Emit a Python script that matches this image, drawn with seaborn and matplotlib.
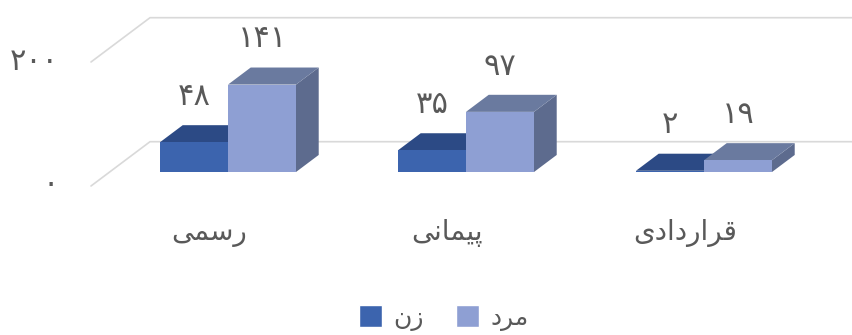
import numpy as np
import pandas as pd
import seaborn as sns
from matplotlib import pyplot as plt
from matplotlib.patches import Polygon
from matplotlib.transforms import ScaledTranslation

categories = ['رسمی', 'پیمانی', 'قراردادی']
series = ['زن', 'مرد']
women = [48, 35, 2]
men = [141, 97, 19]
yticks = [0, 200]

# Persian letters -> isolated, final, initial, medial forms
FORMS = {
	'ر': ('\uFEAD', '\uFEAE'), 'ز': ('\uFEAF', '\uFEB0'), 'د': ('\uFEA9', '\uFEAA'), 'ا': ('\uFE8D', '\uFE8E'),
	'س': ('\uFEB1', '\uFEB2', '\uFEB3', '\uFEB4'), 'م': ('\uFEE1', '\uFEE2', '\uFEE3', '\uFEE4'),
	'ی': ('\uFBFC', '\uFBFD', '\uFBFE', '\uFBFF'), 'پ': ('\uFB56', '\uFB57', '\uFB58', '\uFB59'),
	'ن': ('\uFEE5', '\uFEE6', '\uFEE7', '\uFEE8'), 'ق': ('\uFED5', '\uFED6', '\uFED7', '\uFED8'),
}

# matplotlib does no arabic shaping, so pick the joined forms and reverse
def shape(word):
	out = []
	for i, c in enumerate(word):
		prev_joins = i > 0 and len(FORMS[word[i - 1]]) == 4
		next_joins = i < len(word) - 1 and len(FORMS[c]) == 4
		if prev_joins and next_joins:
			out.append(FORMS[c][3])
		elif prev_joins:
			out.append(FORMS[c][1])
		elif next_joins:
			out.append(FORMS[c][2])
		else:
			out.append(FORMS[c][0])
	return ''.join(reversed(out))

def fa(n):
	return str(n).translate(str.maketrans('0123456789', '۰۱۲۳۴۵۶۷۸۹'))

sns.set_style('white')
plt.rcParams['font.family'] = ['DejaVu Sans']
GREY = '#595959'

fig = plt.figure(figsize=(8.52, 3.35), dpi=100)
ax = fig.add_axes([91 / 852, 1 - 186 / 335, (852 - 91) / 852, 186 / 335])

df = pd.DataFrame({
	'cat': categories * 2,
	'series': [series[0]] * 3 + [series[1]] * 3,
	'value': women + men,
})
sns.barplot(data=df, x='cat', y='value', hue='series', hue_order=series, order=categories,
	palette=['#3c64ae', '#8e9fd3'], width=68 * 2 / 238, gap=0, dodge=True, saturation=1, errorbar=None, ax=ax)

# scales of the oblique projection, front of the floor is depth 0, wall is depth 1
px_y = 0.62
ax.set_xlim((91 - 228) / 238, (852 - 228) / 238)
ax.set_ylim(-14 / px_y, 172 / px_y)
dx = 59 / 238
dy = 44.3 / px_y
d_bar = 14 / 44.3
d_len = 0.385

# grid on floor and wall
xr = ax.get_xlim()[1]
for v in yticks:
	front = (ax.get_xlim()[0], v - d_bar * dy)
	back = (front[0] + dx, front[1] + dy)
	ax.plot([front[0], back[0], xr], [front[1], back[1], back[1]], color='#d9d9d9', lw=1.2, zorder=1, clip_on=False)

# side and top faces from the bars seaborn drew
faces = [('#2c4a85', '#2c4a85'), ('#6a7a9f', '#5d6b8e')]
for k, cont in enumerate(ax.containers):
	z = 2 + k
	top_c, side_c = faces[k]
	for bar, val in zip(cont, [women, men][k]):
		x0 = bar.get_x()
		x1 = x0 + bar.get_width()
		h = bar.get_height()
		bar.set_zorder(z + 0.5)
		bar.set_linewidth(0)
		shift = lambda x, v: (x + d_len * dx, v + d_len * dy)
		ax.add_patch(Polygon([(x0, h), (x1, h), shift(x1, h), shift(x0, h)], color=top_c, lw=0, zorder=z + 0.2))
		ax.add_patch(Polygon([(x1, 0), (x1, h), shift(x1, h), shift(x1, 0)], color=side_c, lw=0, zorder=z))
		ax.annotate(fa(val), (x0 + bar.get_width() / 2, h), xytext=(0, 33), textcoords='offset points',
			ha='center', va='center', fontsize=22, color=GREY, annotation_clip=False, zorder=10)

# axes
ax.set_xticks([i - d_bar * dx for i in range(3)])
ax.set_xticklabels([shape(c) for c in categories], fontsize=20, color=GREY)
ax.set_yticks([v - d_bar * dy for v in yticks])
ax.set_yticklabels([fa(v) for v in yticks], fontsize=22, color=GREY)
ax.tick_params(axis='both', length=0)
ax.tick_params(axis='x', pad=24)
ax.tick_params(axis='y', pad=23)
for lab in ax.get_yticklabels():
	lab.set_transform(lab.get_transform() + ScaledTranslation(0, 4 / 100, fig.dpi_scale_trans))
ax.set_xlabel('')
ax.set_ylabel('')
sns.despine(ax=ax, left=True, bottom=True)

handles, labels = ax.get_legend_handles_labels()
ax.get_legend().remove()
fig.legend(handles, [shape(l) for l in labels], ncol=2, frameon=False, fontsize=18, labelcolor=GREY,
	loc='center', bbox_to_anchor=(444 / 852, 1 - 318 / 335), handlelength=0.92, handleheight=0.92,
	handletextpad=0.45, columnspacing=1.3, borderpad=0, borderaxespad=0)

fig.savefig('out.png', dpi=100)
